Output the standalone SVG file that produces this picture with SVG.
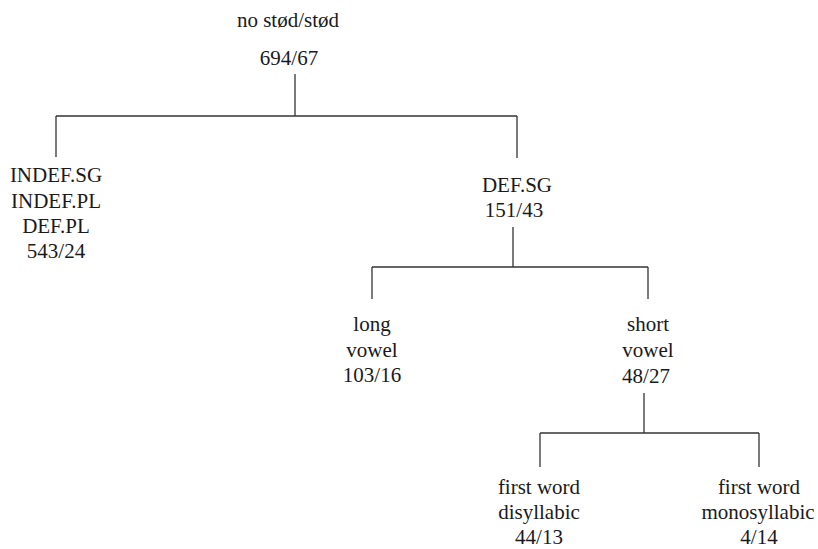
<svg xmlns="http://www.w3.org/2000/svg" width="818" height="549" viewBox="0 0 818 549">
<style>
text{font-family:"Liberation Serif","Times New Roman",serif;font-size:21px;fill:#1a1a1a;text-anchor:middle}
.c line{stroke:#333;stroke-width:1.3;fill:none}
</style>
<rect width="818" height="549" fill="#fff"/>
<g class="c" id="connectors">
<line x1="295" y1="74" x2="295" y2="116"/>
<line x1="56" y1="116" x2="517" y2="116"/>
<line x1="56" y1="116" x2="56" y2="157"/>
<line x1="517" y1="116" x2="517" y2="158"/>
<line x1="513" y1="227" x2="513" y2="267"/>
<line x1="372" y1="267" x2="648" y2="267"/>
<line x1="372" y1="267" x2="372" y2="299"/>
<line x1="648" y1="267" x2="648" y2="299"/>
<line x1="644" y1="393" x2="644" y2="433"/>
<line x1="540" y1="433" x2="759" y2="433"/>
<line x1="540" y1="433" x2="540" y2="467"/>
<line x1="759" y1="433" x2="759" y2="467"/>
</g>
<g id="root"><text x="288" y="27">no stød/stød</text><text x="289" y="65">694/67</text></g>
<g id="indef"><text x="56" y="182">INDEF.SG</text><text x="56" y="208">INDEF.PL</text><text x="56" y="233">DEF.PL</text><text x="56" y="258">543/24</text></g>
<g id="defsg"><text x="517" y="192">DEF.SG</text><text x="514" y="217">151/43</text></g>
<g id="long"><text x="372" y="331">long</text><text x="372" y="357">vowel</text><text x="372" y="382">103/16</text></g>
<g id="short"><text x="648" y="331">short</text><text x="648" y="357">vowel</text><text x="646" y="383">48/27</text></g>
<g id="disyl"><text x="539" y="494">first word</text><text x="539" y="519">disyllabic</text><text x="539" y="544">44/13</text></g>
<g id="monosyl"><text x="759" y="494">first word</text><text x="758" y="519">monosyllabic</text><text x="759" y="544">4/14</text></g>
</svg>
